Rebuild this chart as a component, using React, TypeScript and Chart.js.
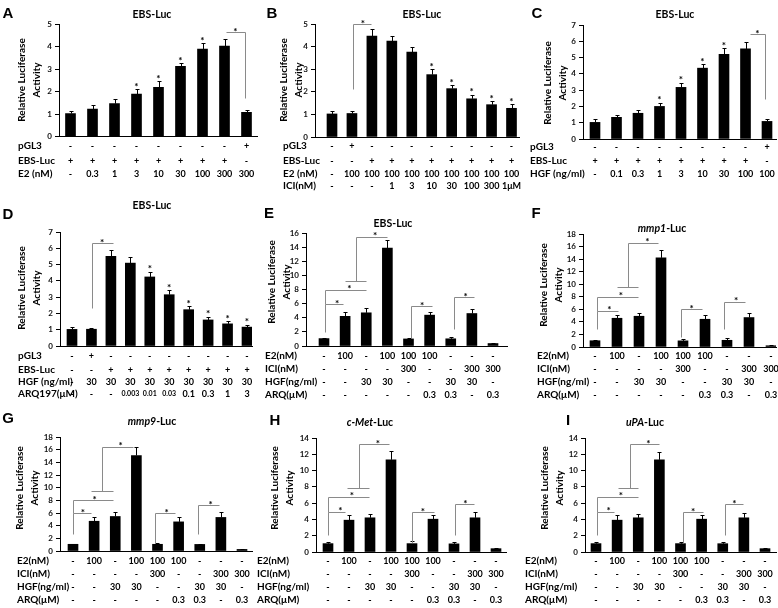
import React, { useEffect, useRef } from "react";
import { Chart, registerables } from "chart.js";
Chart.register(...registerables);

const W = 778;
const H = 608;
const YW = 20;
const SANS = "Lato, 'Noto Sans', 'DejaVu Sans', sans-serif";
const LETTER_FONT = "bold 15px 'Liberation Sans', Arial, sans-serif";

// ---------------- Panel A ----------------
const aValues = [1.02, 1.22, 1.46, 1.88, 2.19, 3.12, 3.89, 4.02, 1.07];
const aErrors = [0.13, 0.16, 0.19, 0.23, 0.27, 0.14, 0.25, 0.33, 0.11];
const aStarBars = [3, 4, 5, 6];
const aPGL3 = ["-", "-", "-", "-", "-", "-", "-", "-", "+"];
const aEBS = ["+", "+", "+", "+", "+", "+", "+", "+", "-"];
const aE2 = ["-", "0.3", "1", "3", "10", "30", "100", "300", "300"];
const aBrackets = [{ pts: [[7.08, 4.63], [7.91, 4.63], [7.91, 1.7]], star: [7.5, 4.63] }];

// ---------------- Panel B ----------------
const bValues = [1.02, 1.04, 4.46, 4.24, 3.76, 2.76, 2.14, 1.69, 1.43, 1.27];
const bErrors = [0.13, 0.1, 0.31, 0.25, 0.21, 0.24, 0.15, 0.17, 0.15, 0.17];
const bStarBars = [5, 6, 7, 8, 9];
const bPGL3 = ["-", "+", "-", "-", "-", "-", "-", "-", "-", "-"];
const bEBS = ["-", "-", "+", "+", "+", "+", "+", "+", "+", "+"];
const bE2 = ["-", "100", "100", "100", "100", "100", "100", "100", "100", "100"];
const bICI = ["-", "-", "-", "1", "3", "10", "30", "100", "300", "1μM"];
const bBrackets = [{ pts: [[1.05, 2.14], [1.05, 5.0], [1.97, 5.0]], star: [1.55, 5.0] }];

// ---------------- Panel C ----------------
const cValues = [1.02, 1.33, 1.58, 2.0, 3.17, 4.35, 5.2, 5.53, 1.08];
const cErrors = [0.18, 0.17, 0.2, 0.23, 0.27, 0.25, 0.36, 0.42, 0.15];
const cStarBars = [3, 4, 5, 6];
const cPGL3 = ["-", "-", "-", "-", "-", "-", "-", "-", "+"];
const cEBS = ["+", "+", "+", "+", "+", "+", "+", "+", "-"];
const cHGF = ["-", "0.1", "0.3", "1", "3", "10", "30", "100", "100"];
const cBrackets = [{ pts: [[7.2, 6.43], [7.89, 6.43], [7.89, 2.47]], star: [7.55, 6.43] }];

// ---------------- Panel D ----------------
const dValues = [1.02, 1.03, 5.5, 5.09, 4.24, 3.15, 2.23, 1.6, 1.36, 1.16];
const dErrors = [0.14, 0.1, 0.4, 0.37, 0.33, 0.28, 0.2, 0.2, 0.16, 0.13];
const dStarBars = [4, 5, 6, 7, 8, 9];
const dPGL3 = ["-", "+", "-", "-", "-", "-", "-", "-", "-", "-"];
const dEBS = ["-", "-", "+", "+", "+", "+", "+", "+", "+", "+"];
const dHGF = ["-", "30", "30", "30", "30", "30", "30", "30", "30", "30"];
const dARQ = ["-", "-", "-", "0.003", "0.01", "0.03", "0.1", "0.3", "1", "3"];
const dBrackets = [{ pts: [[1.03, 2.32], [1.03, 6.32], [2.1, 6.32]], star: [1.55, 6.32] }];

// ---------------- Panels E–I shared treatment rows ----------------
const e2Row = ["-", "100", "-", "100", "100", "100", "-", "-", "-"];
const iciRow = ["-", "-", "-", "-", "300", "-", "-", "300", "300"];
const hgfRow = ["-", "-", "30", "30", "-", "-", "30", "30", "-"];
const arqRow = ["-", "-", "-", "-", "-", "0.3", "0.3", "-", "0.3"];

// ---------------- Panel E ----------------
const eValues = [1.05, 4.2, 4.7, 13.86, 1.0, 4.37, 1.02, 4.6, 0.35];
const eErrors = [0.12, 0.65, 0.65, 1.2, 0.15, 0.5, 0.28, 0.6, 0.07];
const eBrackets = [
  { pts: [[0.05, 2.0], [0.05, 5.9], [0.88, 5.9]], star: [0.62, 5.9] },
  { pts: [[0.05, 5.9], [0.05, 7.93], [2.0, 7.93]], star: [1.2, 7.93] },
  { pts: [[1.0, 9.26], [2.0, 9.26]] },
  { pts: [[1.53, 9.26], [1.53, 15.5], [3.0, 15.5]], star: [2.42, 15.5] },
  { pts: [[4.1, 1.2], [4.1, 5.65], [5.1, 5.65]], star: [4.64, 5.65] },
  { pts: [[6.15, 2.47], [6.15, 6.88], [7.12, 6.88]], star: [6.7, 6.88] },
];

// ---------------- Panel F ----------------
const fValues = [1.0, 4.58, 4.9, 14.2, 0.98, 4.42, 1.07, 4.69, 0.2];
const fErrors = [0.17, 0.5, 0.55, 1.2, 0.24, 0.62, 0.3, 0.72, 0.08];
const fBrackets = [
  { pts: [[0.08, 2.93], [0.08, 5.75], [1.06, 5.75]], star: [0.65, 5.75] },
  { pts: [[0.08, 5.75], [0.08, 7.99], [1.94, 7.99]], star: [1.18, 7.99] },
  { pts: [[0.98, 9.48], [1.94, 9.48]] },
  { pts: [[1.52, 9.48], [1.52, 16.6], [2.88, 16.6]], star: [2.38, 16.6] },
  { pts: [[3.89, 1.6], [3.89, 6.02], [4.85, 6.02]], star: [4.39, 6.02] },
  { pts: [[5.88, 2.93], [5.88, 7.19], [6.82, 7.19]], star: [6.41, 7.19] },
];

// ---------------- Panel G ----------------
const gValues = [1.06, 4.7, 5.45, 15.08, 1.06, 4.6, 1.04, 5.3, 0.25];
const gErrors = [0.12, 0.7, 0.75, 1.3, 0.14, 0.75, 0.14, 0.8, 0.05];
const gBrackets = [
  { pts: [[0.0, 2.75], [0.0, 5.93], [0.85, 5.93]], star: [0.47, 5.93] },
  { pts: [[0.0, 5.93], [0.0, 8.04], [1.87, 8.04]], star: [1.02, 8.04] },
  { pts: [[0.85, 9.47], [1.87, 9.47]] },
  { pts: [[1.37, 9.47], [1.37, 16.5], [2.83, 16.5]], star: [2.26, 16.5] },
  { pts: [[3.88, 1.32], [3.88, 5.93], [4.83, 5.93]], star: [4.43, 5.93] },
  { pts: [[5.93, 2.75], [5.93, 7.25], [6.92, 7.25]], star: [6.51, 7.25] },
];

// ---------------- Panel H ----------------
const hValues = [1.03, 3.91, 4.2, 11.32, 1.03, 4.03, 1.0, 4.2, 0.41];
const hErrors = [0.25, 0.6, 0.5, 1.03, 0.28, 0.57, 0.28, 0.66, 0.12];
const hBrackets = [
  { pts: [[0.0, 2.06], [0.0, 4.94], [0.83, 4.94]], star: [0.59, 4.94] },
  { pts: [[0.0, 4.94], [0.0, 6.79], [1.94, 6.79]], star: [1.14, 6.79] },
  { pts: [[0.92, 7.82], [1.94, 7.82]] },
  { pts: [[1.46, 7.82], [1.46, 13.26], [2.92, 13.26]], star: [2.37, 13.26] },
  { pts: [[4.0, 1.15], [4.0, 4.86], [5.03, 4.86]], star: [4.52, 4.86] },
  { pts: [[6.06, 2.06], [6.06, 5.85], [6.94, 5.85]], star: [6.54, 5.85] },
];

// ---------------- Panel I ----------------
const iValues = [1.03, 3.91, 4.2, 11.32, 1.03, 4.03, 1.02, 4.2, 0.41];
const iErrors = [0.22, 0.58, 0.48, 1.0, 0.25, 0.55, 0.26, 0.64, 0.1];
const iBrackets = [
  { pts: [[0.03, 2.06], [0.03, 4.94], [0.87, 4.94]], star: [0.6, 4.94] },
  { pts: [[0.03, 4.94], [0.03, 6.79], [2.0, 6.79]], star: [1.18, 6.79] },
  { pts: [[1.06, 7.82], [2.0, 7.82]] },
  { pts: [[1.61, 7.82], [1.61, 13.26], [2.98, 13.26]], star: [2.48, 13.26] },
  { pts: [[4.13, 1.15], [4.13, 4.86], [5.08, 4.86]], star: [4.6, 4.86] },
  { pts: [[6.1, 2.06], [6.1, 5.85], [6.97, 5.85]], star: [6.55, 5.85] },
];

type Bracket = { pts: number[][]; star?: number[] };
type Row = { label: string; cells: string[] };
type Panel = {
  letter: string;
  titleItalic: string;
  titleRest: string;
  values: number[];
  errors: number[];
  starBars: number[];
  brackets: Bracket[];
  rows: Row[];
  yMax: number;
  yStep: number;
  axisX: number;
  right: number;
  first: number;
  last: number;
  top: number;
  bottom: number;
  letterPos: number[];
  titlePos: number[];
  yTitlePos: number[];
  rowX: number;
  rowYs: number[];
};

const rowsEI: Row[] = [
  { label: "E2(nM)", cells: e2Row },
  { label: "ICI(nM)", cells: iciRow },
  { label: "HGF(ng/ml)", cells: hgfRow },
  { label: "ARQ(μM)", cells: arqRow },
];

const panels: Panel[] = [
  {
    letter: "A", titleItalic: "", titleRest: "EBS-Luc",
    values: aValues, errors: aErrors, starBars: aStarBars, brackets: aBrackets,
    rows: [{ label: "pGL3", cells: aPGL3 }, { label: "EBS-Luc", cells: aEBS }, { label: "E2 (nM)", cells: aE2 }],
    yMax: 5, yStep: 1,
    axisX: 59, right: 257, first: 70.5, last: 246.5, top: 24, bottom: 136.5,
    letterPos: [8, 14], titlePos: [152, 15], yTitlePos: [22, 80], rowX: 18, rowYs: [146, 161, 174],
  },
  {
    letter: "B", titleItalic: "", titleRest: "EBS-Luc",
    values: bValues, errors: bErrors, starBars: bStarBars, brackets: bBrackets,
    rows: [{ label: "pGL3", cells: bPGL3 }, { label: "EBS-Luc", cells: bEBS }, { label: "E2 (nM)", cells: bE2 }, { label: "ICI(nM)", cells: bICI }],
    yMax: 5, yStep: 1,
    axisX: 315, right: 519, first: 332, last: 511.5, top: 24, bottom: 137,
    letterPos: [272, 14], titlePos: [422, 15], yTitlePos: [284, 80], rowX: 283, rowYs: [146, 161, 174, 186],
  },
  {
    letter: "C", titleItalic: "", titleRest: "EBS-Luc",
    values: cValues, errors: cErrors, starBars: cStarBars, brackets: cBrackets,
    rows: [{ label: "pGL3", cells: cPGL3 }, { label: "EBS-Luc", cells: cEBS }, { label: "HGF (ng/ml)", cells: cHGF }],
    yMax: 7, yStep: 1,
    axisX: 583, right: 776, first: 595, last: 767, top: 25, bottom: 139,
    letterPos: [537, 14], titlePos: [675, 15], yTitlePos: [548, 83], rowX: 530, rowYs: [147, 161, 174],
  },
  {
    letter: "D", titleItalic: "", titleRest: "EBS-Luc",
    values: dValues, errors: dErrors, starBars: dStarBars, brackets: dBrackets,
    rows: [{ label: "pGL3", cells: dPGL3 }, { label: "EBS-Luc", cells: dEBS }, { label: "HGF (ng/ml)", cells: dHGF }, { label: "ARQ197(μM)", cells: dARQ }],
    yMax: 7, yStep: 1,
    axisX: 60, right: 252, first: 72, last: 247, top: 232, bottom: 346,
    letterPos: [8, 215], titlePos: [152, 206], yTitlePos: [22, 288], rowX: 18, rowYs: [356, 370, 382, 394],
  },
  {
    letter: "E", titleItalic: "", titleRest: "EBS-Luc",
    values: eValues, errors: eErrors, starBars: [], brackets: eBrackets, rows: rowsEI,
    yMax: 16, yStep: 2,
    axisX: 306, right: 507, first: 324, last: 493, top: 233, bottom: 346,
    letterPos: [269, 214], titlePos: [393, 224], yTitlePos: [272, 282], rowX: 265, rowYs: [356, 369, 382, 395],
  },
  {
    letter: "F", titleItalic: "mmp1", titleRest: "-Luc",
    values: fValues, errors: fErrors, starBars: [], brackets: fBrackets, rows: rowsEI,
    yMax: 18, yStep: 2,
    axisX: 583, right: 776, first: 595, last: 771, top: 234, bottom: 347,
    letterPos: [536, 214], titlePos: [662, 229], yTitlePos: [544, 285], rowX: 537, rowYs: [356, 369, 382, 395],
  },
  {
    letter: "G", titleItalic: "mmp9", titleRest: "-Luc",
    values: gValues, errors: gErrors, starBars: [], brackets: gBrackets, rows: rowsEI,
    yMax: 18, yStep: 2,
    axisX: 60, right: 252, first: 73, last: 242, top: 437, bottom: 551,
    letterPos: [8, 419], titlePos: [152, 422], yTitlePos: [20, 488], rowX: 17, rowYs: [561, 574, 587, 600],
  },
  {
    letter: "H", titleItalic: "c-Met", titleRest: "-Luc",
    values: hValues, errors: hErrors, starBars: [], brackets: hBrackets, rows: rowsEI,
    yMax: 14, yStep: 2,
    axisX: 316, right: 506, first: 328, last: 496, top: 438, bottom: 552,
    letterPos: [275, 421], titlePos: [370, 423], yTitlePos: [275, 488], rowX: 257, rowYs: [561, 574, 587, 600],
  },
  {
    letter: "I", titleItalic: "uPA", titleRest: "-Luc",
    values: iValues, errors: iErrors, starBars: [], brackets: iBrackets, rows: rowsEI,
    yMax: 14, yStep: 2,
    axisX: 585, right: 776, first: 596, last: 765, top: 438, bottom: 552,
    letterPos: [568, 421], titlePos: [645, 423], yTitlePos: [545, 488], rowX: 525, rowYs: [561, 574, 587, 600],
  },
];

function makeOverlay(p: Panel) {
  return {
    id: "overlay" + p.letter,
    afterDatasetsDraw(chart: any) {
      const ctx: CanvasRenderingContext2D = chart.ctx;
      const xs = chart.scales.x;
      const ys = chart.scales.y;
      ctx.save();
      ctx.strokeStyle = "#000";
      ctx.lineWidth = 1;
      p.values.forEach((v, i) => {
        const x = Math.round(xs.getPixelForValue(i)) + 0.5;
        const y0 = ys.getPixelForValue(v);
        const y1 = Math.round(ys.getPixelForValue(v + p.errors[i])) + 0.5;
        ctx.beginPath();
        ctx.moveTo(x, y0);
        ctx.lineTo(x, y1);
        ctx.moveTo(x - 2, y1);
        ctx.lineTo(x + 2, y1);
        ctx.stroke();
      });
      ctx.strokeStyle = "#8a8a8a";
      p.brackets.forEach((b) => {
        ctx.beginPath();
        b.pts.forEach((pt, k) => {
          const x = Math.round(xs.getPixelForValue(pt[0])) + 0.5;
          const y = Math.round(ys.getPixelForValue(pt[1])) + 0.5;
          if (k === 0) ctx.moveTo(x, y);
          else ctx.lineTo(x, y);
        });
        ctx.stroke();
      });
      ctx.fillStyle = "#000";
      ctx.font = "bold 10px " + SANS;
      ctx.textAlign = "center";
      ctx.textBaseline = "alphabetic";
      p.starBars.forEach((i) => {
        const x = xs.getPixelForValue(i);
        const y = ys.getPixelForValue(p.values[i] + p.errors[i]);
        ctx.fillText("*", x, y + 0.5);
      });
      p.brackets.forEach((b) => {
        if (!b.star) return;
        const x = xs.getPixelForValue(b.star[0]);
        const y = ys.getPixelForValue(b.star[1]);
        ctx.fillText("*", x, y + 2.5);
      });
      ctx.restore();
    },
    afterDraw(chart: any) {
      const ctx: CanvasRenderingContext2D = chart.ctx;
      const xs = chart.scales.x;
      ctx.save();
      ctx.fillStyle = "#000";
      ctx.font = LETTER_FONT;
      ctx.textAlign = "center";
      ctx.textBaseline = "middle";
      ctx.fillText(p.letter, p.letterPos[0], p.letterPos[1]);
      const fN = "bold 10.5px " + SANS;
      const fI = "italic bold 10.5px " + SANS;
      ctx.font = fI;
      const wI = p.titleItalic ? ctx.measureText(p.titleItalic).width : 0;
      ctx.font = fN;
      const wR = ctx.measureText(p.titleRest).width;
      let tx = p.titlePos[0] - (wI + wR) / 2;
      ctx.textAlign = "left";
      if (p.titleItalic) {
        ctx.font = fI;
        ctx.fillText(p.titleItalic, tx, p.titlePos[1]);
        tx += wI;
      }
      ctx.font = fN;
      ctx.fillText(p.titleRest, tx, p.titlePos[1]);
      ctx.font = "bold 10px " + SANS;
      ctx.textAlign = "center";
      ["Relative Luciferase", "Activity"].forEach((line, k) => {
        ctx.save();
        ctx.translate(p.yTitlePos[0] + k * 15, p.yTitlePos[1]);
        ctx.rotate(-Math.PI / 2);
        ctx.fillText(line, 0, 0);
        ctx.restore();
      });
      p.rows.forEach((row, r) => {
        const y = p.rowYs[r];
        ctx.textAlign = "left";
        ctx.font = "bold 10px " + SANS;
        ctx.fillText(row.label, p.rowX, y);
        ctx.textAlign = "center";
        row.cells.forEach((c, i) => {
          ctx.font = (c.length >= 4 ? "bold 7px " : "bold 9px ") + SANS;
          ctx.fillText(c, xs.getPixelForValue(i), y);
        });
      });
      ctx.restore();
    },
  };
}

function PanelChart({ p }: { p: Panel }) {
  const ref = useRef<HTMLCanvasElement>(null);
  useEffect(() => {
    const canvas = ref.current;
    if (!canvas) return;
    const n = p.values.length;
    const s = (p.last - p.first) / (n - 1);
    const xMin = -(p.first - p.axisX) / s;
    const xMax = n - 1 + (p.right - p.last) / s;
    const chart = new Chart(canvas, {
      type: "bar",
      data: {
        datasets: [
          {
            data: p.values.map((v, i) => ({ x: i, y: v })),
            backgroundColor: "#000",
            borderWidth: 0,
            barThickness: 10,
          },
        ],
      },
      options: {
        animation: false,
        responsive: false,
        events: [],
        layout: { padding: { left: p.axisX - YW, right: W - p.right, top: p.top, bottom: H - p.bottom } },
        plugins: { legend: { display: false }, tooltip: { enabled: false }, title: { display: false } },
        scales: {
          x: {
            type: "linear",
            min: xMin,
            max: xMax,
            offset: false,
            ticks: { display: false },
            grid: { display: false },
            border: { display: true, color: "#000", width: 1 },
            afterFit: (sc: any) => {
              sc.height = 0;
            },
          },
          y: {
            type: "linear",
            min: 0,
            max: p.yMax,
            ticks: {
              stepSize: p.yStep,
              autoSkip: false,
              font: { family: SANS, size: 8, weight: "bold" },
              color: "#111",
              padding: 3,
            },
            grid: { drawOnChartArea: false, drawTicks: true, tickLength: 4, color: "#000" },
            border: { display: true, color: "#000", width: 1 },
            afterFit: (sc: any) => {
              sc.width = YW;
            },
          },
        },
      } as any,
      plugins: [makeOverlay(p)],
    });
    return () => chart.destroy();
  }, [p]);
  return <canvas ref={ref} width={W} height={H} style={{ position: "absolute", left: 0, top: 0 }} />;
}

export default function App() {
  return (
    <div style={{ position: "absolute", left: 0, top: 0, width: W, height: H, background: "#fff", overflow: "hidden" }}>
      {panels.map((p) => (
        <PanelChart key={p.letter} p={p} />
      ))}
    </div>
  );
}
